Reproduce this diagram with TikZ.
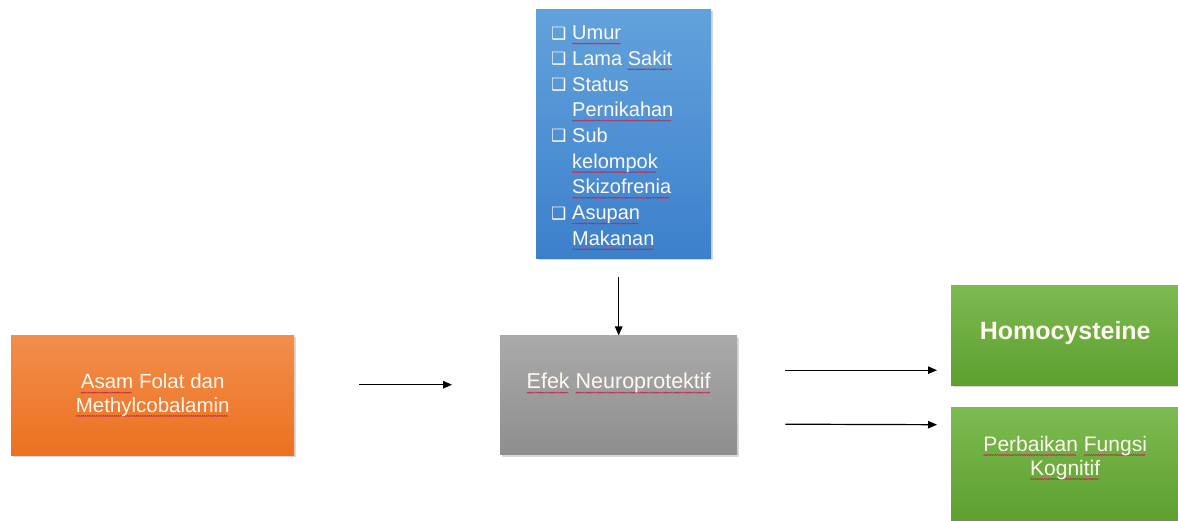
\documentclass[tikz,border=0pt]{standalone}
\usepackage{fontspec}
\setmainfont{Liberation Sans}
\newfontfamily\symfont{DejaVu Sans}
\usetikzlibrary{shadows,arrows.meta}
\definecolor{txtc}{HTML}{FFF9F2}
\newsavebox\wavebox
\newsavebox\sqword
\sbox\wavebox{\hbox to 2.2pt{\vrule height 1.2pt depth 0pt width 0pt\special{pdf:literal q 0.75 0.16 0.3 RG 0.6 w 0 0 m 1.1 1.1 l 2.2 0 l S Q}\hfil}}
\newcommand\sq[1]{\sbox\sqword{#1}\leavevmode\rlap{\raisebox{-4.5pt}{\leaders\copy\wavebox\hskip\wd\sqword}}\usebox\sqword}
\newcommand\cbx{\makebox[21pt][l]{\symfont\fontsize{17}{17}\selectfont\raisebox{0.5pt}{❑}}}
\begin{document}
\begin{tikzpicture}[x=1pt,y=1pt,
  box/.style={draw=none, inner sep=0pt, anchor=north west, drop shadow={shadow xshift=1.5pt, shadow yshift=-2pt, opacity=0.3}},
  orangebox/.style={box, top color=orange1, bottom color=orange2},
  bluebox/.style={box, top color=blue1, bottom color=blue2},
  graybox/.style={box, top color=gray1, bottom color=gray2},
  greenbox/.style={box, top color=green1, bottom color=green2},
  txt/.style={text=txtc, align=center, inner sep=0pt},
  arr/.style={-{Triangle[length=9pt,width=7.5pt]}, line width=1.2pt, black}
]
\definecolor{orange1}{HTML}{F28E4C}
\definecolor{orange2}{HTML}{EC7120}
\definecolor{blue1}{HTML}{62A2DC}
\definecolor{blue2}{HTML}{3C80CB}
\definecolor{gray1}{HTML}{AAAAAA}
\definecolor{gray2}{HTML}{8E8E8E}
\definecolor{green1}{HTML}{7CBB50}
\definecolor{green2}{HTML}{5E9F30}
\useasboundingbox (0,0) rectangle (1178,-521);
\fill[white] (0,0) rectangle (1178,-521);

% boxes
\node[bluebox, minimum width=175pt, minimum height=249pt] (blue) at (536,-9) {};
\node[orangebox, minimum width=283pt, minimum height=120pt] (orange) at (11,-335) {};
\node[graybox, minimum width=237pt, minimum height=119pt] (gray) at (500,-335.5) {};
\node[greenbox, minimum width=228pt, minimum height=100pt] (hcy) at (951,-285) {};
\node[greenbox, minimum width=228pt, minimum height=115pt] (kog) at (951,-407) {};

% blue list
\node[inner sep=0pt, anchor=north west, text=txtc] (list) at (551,-21.5) {%
  \fontsize{20}{25.7}\selectfont
  \begin{tabular}{@{}l@{}l@{}}
  \cbx & \sq{Umur}\\
  \cbx & Lama \sq{Sakit}\\
  \cbx & Status\\
   & \sq{Pernikahan}\\
  \cbx & Sub\\
   & \sq{kelompok}\\
   & \sq{Skizofrenia}\\
  \cbx & \sq{Asupan}\\
   & \sq{Makanan}
  \end{tabular}};

% texts
\node[txt, font=\fontsize{20.5}{23.3}\selectfont] (otext) at (orange.center) {\sq{Asam} Folat dan\\\sq{Methylcobalamin}};
\node[txt, font=\fontsize{21.5}{24}\selectfont] (gtext) at ([yshift=12]gray.center) {\sq{Efek} \sq{Neuroprotektif}};
\node[txt, font=\bfseries\fontsize{25}{28}\selectfont] (htext) at ([yshift=2]hcy.center) {Homocysteine};
\node[txt, font=\fontsize{21}{24}\selectfont] (ktext) at ([yshift=7]kog.center) {\sq{Perbaikan} \sq{Fungsi}\\\sq{Kognitif}};

% arrows
\draw[arr] ([shift={(65,10.5)}]orange.east) -- ([shift={(-48,10.5)}]gray.west);
\draw[arr] ([yshift=-19]blue.south -| gray.north) -- ([yshift=0]gray.north);
\draw[arr] ([shift={(48,25)}]gray.east) -- ([shift={(-14,-35)}]hcy.west);
\draw[arr] ([shift={(48,-29)}]gray.east) -- ([shift={(-14,40)}]kog.west);
\end{tikzpicture}
\end{document}
